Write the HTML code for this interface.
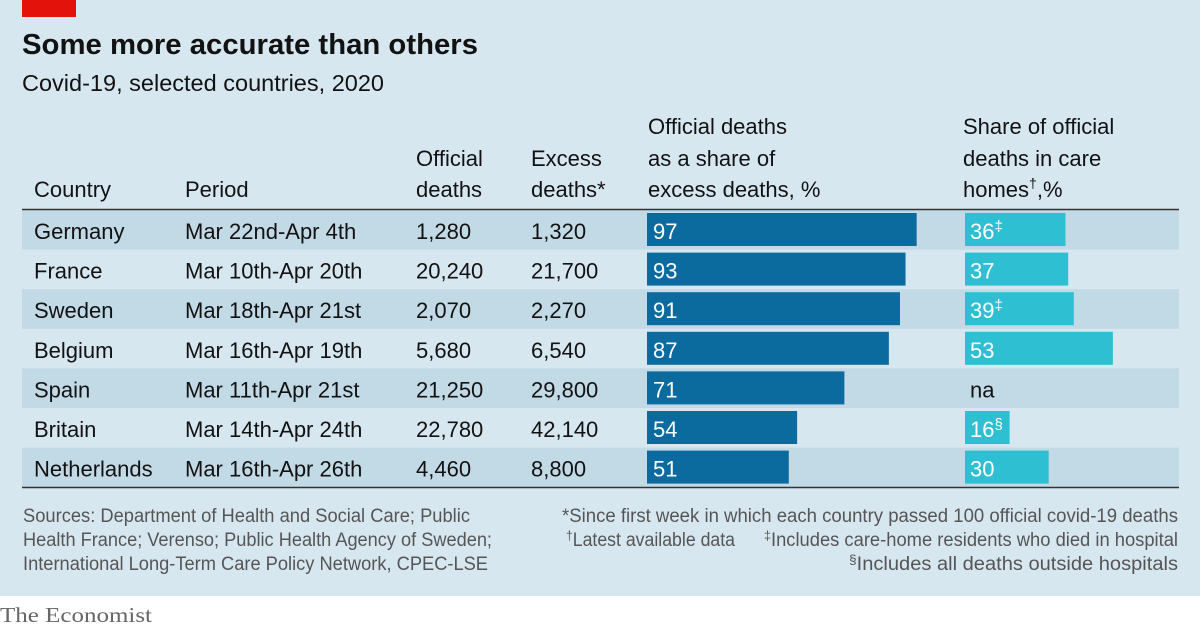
<!DOCTYPE html>
<html><head><meta charset="utf-8"><style>
body{margin:0;background:#fff}
svg{display:block;font-family:"Liberation Sans",sans-serif}
</style></head><body>
<svg id="chart" width="1200" height="630" viewBox="0 0 1200 630">
<rect x="0" y="0" width="1200" height="596" fill="#d7e7f0"/>
<rect x="22" y="0" width="54" height="17" fill="#e3120b"/>
<text x="22" y="54" font-size="29" font-weight="bold" fill="#121212" textLength="456" lengthAdjust="spacingAndGlyphs">Some more accurate than others</text>
<text x="22" y="91" font-size="23" fill="#121212" textLength="362" lengthAdjust="spacingAndGlyphs">Covid-19, selected countries, 2020</text>
<g font-size="22" fill="#121212">
<text x="34" y="197">Country</text>
<text x="185" y="197">Period</text>
<text x="416" y="166">Official</text>
<text x="416" y="197">deaths</text>
<text x="531" y="166">Excess</text>
<text x="531" y="197">deaths*</text>
<text x="648" y="134">Official deaths</text>
<text x="648" y="166">as a share of</text>
<text x="648" y="197">excess deaths, %</text>
<text x="963" y="134">Share of official</text>
<text x="963" y="166">deaths in care</text>
<text x="963" y="197">homes<tspan font-size="14" dy="-9">†</tspan><tspan dy="9">,%</tspan></text>
</g>
<g id="rows"></g>
<line x1="22" y1="209.5" x2="1179" y2="209.5" stroke="#333" stroke-width="1.5"/>
<line x1="22" y1="487.5" x2="1179" y2="487.5" stroke="#333" stroke-width="1.5"/>
<g font-size="19" fill="#555" font-family="'Liberation Sans Narrow','Liberation Sans',sans-serif">
<text x="23" y="522" textLength="447" lengthAdjust="spacingAndGlyphs">Sources: Department of Health and Social Care; Public</text>
<text x="23" y="546" textLength="469" lengthAdjust="spacingAndGlyphs">Health France; Verenso; Public Health Agency of Sweden;</text>
<text x="23" y="570" textLength="465" lengthAdjust="spacingAndGlyphs">International Long-Term Care Policy Network, CPEC-LSE</text>
</g>
<g font-size="19" fill="#555" font-family="'Liberation Sans Narrow','Liberation Sans',sans-serif">
<text x="562" y="522" textLength="616" lengthAdjust="spacingAndGlyphs">*Since first week in which each country passed 100 official covid-19 deaths</text>
<text x="566" y="546" textLength="169" lengthAdjust="spacingAndGlyphs"><tspan font-size="13" dy="-6">†</tspan><tspan dy="6">Latest available data</tspan></text>
<text x="764" y="546" textLength="414" lengthAdjust="spacingAndGlyphs"><tspan font-size="13" dy="-6">‡</tspan><tspan dy="6">Includes care-home residents who died in hospital</tspan></text>
<text x="849" y="570" textLength="329" lengthAdjust="spacingAndGlyphs"><tspan font-size="13" dy="-6">§</tspan><tspan dy="6">Includes all deaths outside hospitals</tspan></text>
</g>
<text x="0" y="622" font-size="21" fill="#666" font-family="'Liberation Serif',serif" textLength="152" lengthAdjust="spacingAndGlyphs">The Economist</text>
</svg>
<script>
const countries=["Germany","France","Sweden","Belgium","Spain","Britain","Netherlands"];
const periods=["Mar 22nd-Apr 4th","Mar 10th-Apr 20th","Mar 18th-Apr 21st","Mar 16th-Apr 19th","Mar 11th-Apr 21st","Mar 14th-Apr 24th","Mar 16th-Apr 26th"];
const officialDeaths=["1,280","20,240","2,070","5,680","21,250","22,780","4,460"];
const excessDeaths=["1,320","21,700","2,270","6,540","29,800","42,140","8,800"];
const shareValues=[97,93,91,87,71,54,51];
const careValues=[36,37,39,53,null,16,30];
const careMarks=["‡","","‡","","","§",""];

const NS="http://www.w3.org/2000/svg";
const g=document.getElementById("rows");
const rowY=i=>210+i*39.6;
const shareX=v=>v*2.78;
const careX=v=>v*2.79;
function mk(tag,attrs,parent){const e=document.createElementNS(NS,tag);for(const k in attrs)e.setAttribute(k,attrs[k]);parent.appendChild(e);return e;}
countries.forEach((c,i)=>{
  const y=rowY(i);
  const row=mk("g",{},g);
  
  
  if(i%2===0){const bg=mk("rect",{x:22,y:y,width:1157,height:39.6,fill:"#c2d9e6"},row);
    
    }
  const ty=y+29;
  const t1=mk("text",{x:34,y:ty,"font-size":22,fill:"#121212"},row);t1.textContent=c;
  
  
  const t2=mk("text",{x:185,y:ty,"font-size":22,fill:"#121212"},row);t2.textContent=periods[i];
  
  
  const t3=mk("text",{x:416,y:ty,"font-size":22,fill:"#121212"},row);t3.textContent=officialDeaths[i];
  
  
  const t4=mk("text",{x:531,y:ty,"font-size":22,fill:"#121212"},row);t4.textContent=excessDeaths[i];
  
  
  const b=mk("rect",{x:647,y:y+3,width:shareX(shareValues[i]),height:33,fill:"#0b6a9e"},row);
  
  
  const bl=mk("text",{x:653,y:ty,"font-size":22,fill:"#fff"},row);bl.textContent=shareValues[i];
  
  
  if(careValues[i]==null){
    const na=mk("text",{x:970,y:ty,"font-size":22,fill:"#121212"},row);na.textContent="na";
    
    
  }else{
    const cb=mk("rect",{x:965,y:y+3,width:careX(careValues[i]),height:33,fill:"#2ebfd3"},row);
    
    
    const cl=mk("text",{x:970,y:ty,"font-size":22,fill:"#fff"},row);
    cl.textContent=careValues[i];
    if(careMarks[i]){const s=mk("tspan",{"font-size":15,dy:-8},cl);s.textContent=careMarks[i];}
    
    
  }
});
</script>
</body></html>
